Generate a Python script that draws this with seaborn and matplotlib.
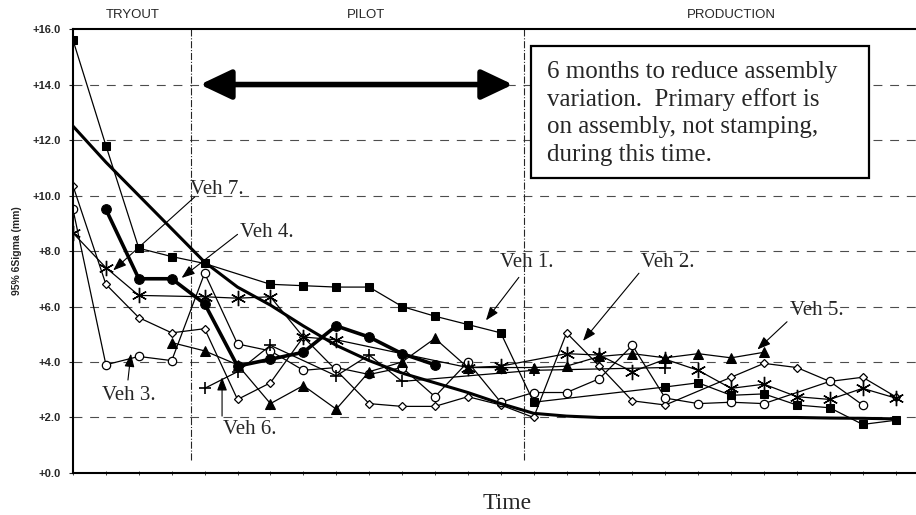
# Dimensional variation of body builds over time (Veh 1 - Veh 7)
import numpy as np
import pandas as pd
import matplotlib
matplotlib.use("Agg")
import matplotlib.pyplot as plt
from matplotlib.patches import Rectangle
import seaborn as sns

nan = np.nan
t = np.arange(26)  # build events, equally spaced on the time axis

# 95% 6Sigma (mm), one value per build (nan = no point)
veh1 = [15.6, 11.8, 8.1, 7.8, 7.55, nan, 6.8, 6.75, 6.7, 6.7, 6.0, 5.65, 5.35,
        5.05, 2.55, nan, nan, nan, 3.1, 3.25, 2.8, 2.85, 2.45, 2.35, 1.75, 1.9]
veh2 = [10.35, 6.8, 5.6, 5.05, 5.2, 2.65, 3.25, 4.9, nan, 2.5, 2.4, 2.4, 2.75,
        2.45, 2.0, 5.05, 3.85, 2.6, 2.45, nan, 3.45, 3.95, 3.8, 3.3, 3.45, 2.75]
veh3 = [9.5, 3.9, 4.2, 4.05, 7.2, 4.65, 4.4, 3.7, 3.8, 3.55, 3.8, 2.75, 4.0,
        2.55, 2.9, 2.9, 3.4, 4.6, 2.7, 2.5, 2.55, 2.5, nan, 3.3, 2.45, nan]
veh4 = [nan, 9.5, 7.0, 7.0, 6.1, 3.85, 4.1, 4.35, 5.3, 4.9, 4.3, 3.9, nan,
        nan, nan, nan, nan, nan, nan, nan, nan, nan, nan, nan, nan, nan]
veh5 = [nan, nan, nan, 4.7, 4.4, 3.9, 2.5, 3.15, 2.3, 3.65, 4.0, 4.85, 3.8,
        3.8, 3.8, 3.85, 4.2, 4.3, 4.15, 4.3, 4.15, 4.35, nan, nan, nan, nan]
veh6 = [nan, nan, nan, nan, 3.05, 3.65, 4.6, nan, 3.5, 4.25, 3.3, nan, nan,
        nan, 3.7, nan, nan, nan, 3.8, nan, nan, nan, nan, nan, nan, nan]
veh7 = [8.65, 7.4, 6.4, nan, 6.35, 6.3, 6.35, 4.9, 4.8, nan, nan, nan, 3.8,
        3.85, nan, 4.3, 4.25, 3.65, 4.1, 3.7, 3.05, 3.2, 2.75, 2.65, 3.05, 2.7]
# smooth target curve (thick line, no markers)
trend = [12.5, 11.2, 10.0, 8.8, 7.6, 6.7, 6.05, 5.3, 4.6, 4.05, 3.6, 3.25, 2.9,
         2.5, 2.15, 2.05, 2.0, 2.0, 2.0, 2.0, 2.0, 2.0, 2.0, 1.98, 1.97, 1.95]

phases = ["TRYOUT", "PILOT", "PRODUCTION"]
phase_center = [1.8, 8.9, 20.0]
phase_bounds = [3.6, 13.7]

yticks = np.arange(0, 17, 2)
ytick_labels = [f"+{v:.1f}" for v in yticks]

note = ("6 months to reduce assembly\nvariation.  Primary effort is\n"
        "on assembly, not stamping,\nduring this time.")

# label text position, arrow start, arrow tip
labels = {
    "Veh 7.": ((3.56, 10.2), (3.7, 9.95), (1.22, 7.3)),
    "Veh 4.": ((5.08, 8.65), (5.0, 8.6), (3.3, 7.03)),
    "Veh 3.": ((0.88, 2.8), (1.67, 3.35), (1.76, 4.3)),
    "Veh 6.": ((4.56, 1.55), (4.53, 2.05), (4.53, 3.45)),
    "Veh 1.": ((12.98, 7.57), (13.55, 7.05), (12.55, 5.5)),
    "Veh 2.": ((17.26, 7.6), (17.2, 7.2), (15.5, 4.76)),
    "Veh 5.": ((21.79, 5.87), (21.7, 5.45), (20.8, 4.45)),
}

sns.set_style("white")
plt.rcParams["font.family"] = ["Liberation Sans", "DejaVu Sans"]
serif = ["Liberation Serif", "DejaVu Serif"]

fig = plt.figure(figsize=(9.16, 5.15), dpi=100)
ax = fig.add_axes([0.0797, 0.0816, 0.9203, 0.862])


def draw(values, **kw):
    s = pd.Series(values, index=t, dtype=float).dropna()
    sns.lineplot(x=s.index.values, y=s.values, ax=ax, color="black",
                 estimator=None, sort=False, markeredgecolor="black", **kw)


draw(veh2, marker="D", markersize=4, markerfacecolor="white", lw=0.9,
     markeredgewidth=0.9)
draw(veh3, marker="o", markersize=6, markerfacecolor="white", lw=0.9,
     markeredgewidth=0.9)
draw(veh6, marker="+", markersize=9, lw=0.9, markeredgewidth=1.2)
draw(veh7, marker=(6, 2, 0), markersize=11, lw=0.9, markeredgewidth=1.0)
draw(veh5, marker="^", markersize=7, markerfacecolor="black", lw=0.9)
draw(veh1, marker="s", markersize=6, markerfacecolor="black", lw=0.9)
draw(trend, lw=2.2)
draw(veh4, marker="o", markersize=7, markerfacecolor="black", lw=2.6)

# dashed grid and phase separators
for y in yticks[1:-1]:
    ax.axhline(y, color="0.3", lw=0.8, dashes=(8, 7), zorder=0)
for xb in phase_bounds:
    ax.axvline(xb, ymin=0.03, ymax=1, color="0.15", lw=0.8, ls="-.", zorder=0)

for name, xc in zip(phases, phase_center):
    ax.text(xc, 16.3, name, ha="center", va="bottom", fontsize=9.5)

# 6-month double arrow and note box
ax.annotate("", xy=(13.37, 14.0), xytext=(3.86, 14.0),
            arrowprops=dict(arrowstyle="<|-|>,head_length=1.9,head_width=0.9",
                            lw=4, color="black", shrinkA=0, shrinkB=0))
ax.add_patch(Rectangle((13.92, 10.63), 10.27, 4.76, facecolor="white",
                       edgecolor="black", lw=1.6, zorder=5))
ax.text(14.42, 14.85, note, ha="left", va="top", fontsize=18,
        family=serif, linespacing=1.3, zorder=6)

for name, (txt, start, tip) in labels.items():
    ax.text(txt[0], txt[1], name, ha="left", va="center", fontsize=15,
            family=serif)
    ax.annotate("", xy=tip, xytext=start,
                arrowprops=dict(arrowstyle="-|>,head_length=0.8,head_width=0.3",
                                lw=0.8, color="black", shrinkA=0, shrinkB=0))

ax.set_xlim(0, 25.62)
ax.set_ylim(0, 16)
ax.set_yticks(yticks)
ax.set_yticklabels(ytick_labels, fontsize=8, fontweight="bold")
ax.set_xticks(t)
ax.set_xticklabels([])
ax.tick_params(axis="y", length=3, width=0.8, pad=6, left=True)
ax.tick_params(axis="x", length=3, width=0.6, direction="inout", bottom=True)

ax.set_ylabel("95% 6Sigma (mm)", fontsize=7.5, fontweight="bold")
ax.yaxis.set_label_coords(-0.061, 0.5)
ax.set_xlabel("Time", fontsize=17, family=serif)
ax.xaxis.set_label_coords(0.515, -0.045)

for side in ["left", "top", "bottom"]:
    ax.spines[side].set_visible(True)
    ax.spines[side].set_color("black")
    ax.spines[side].set_linewidth(1.5)
ax.spines["right"].set_visible(False)

fig.savefig("out.png", dpi=100)
